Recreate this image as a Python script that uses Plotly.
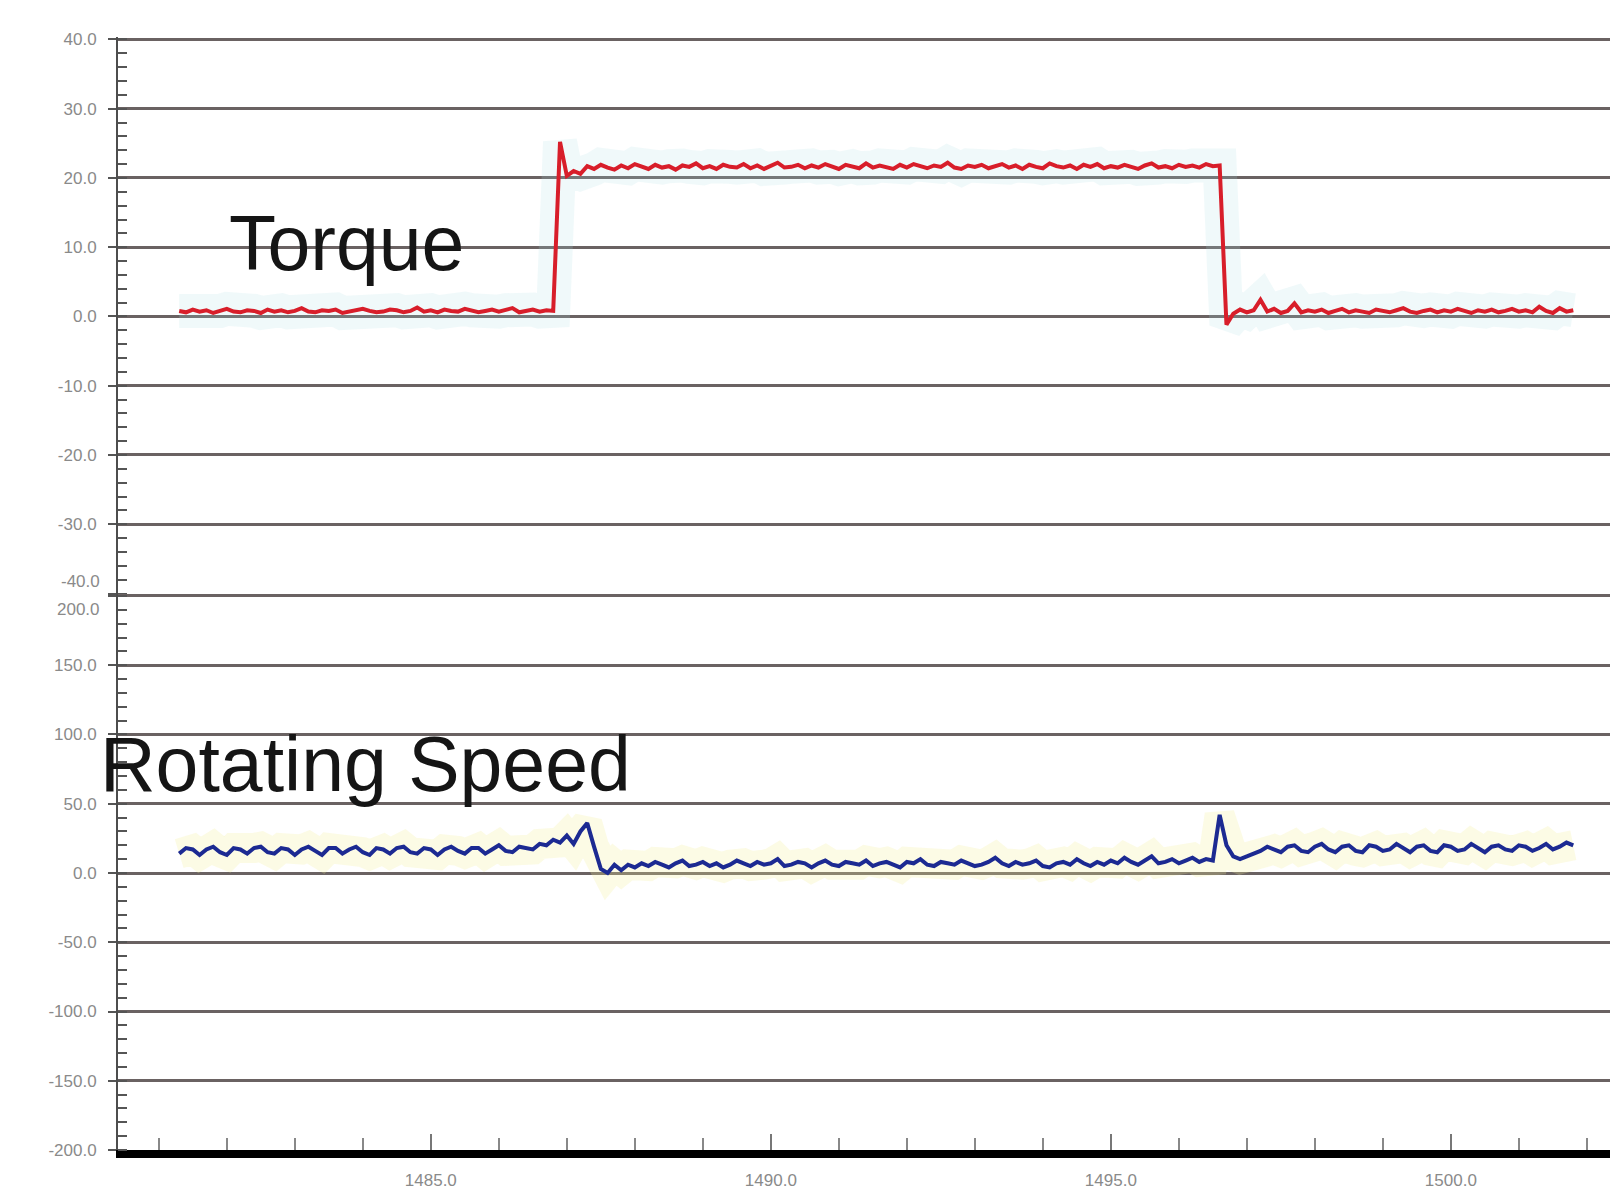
import plotly.graph_objects as go
from plotly.subplots import make_subplots

# ---- data ----
T0 = 1481.3      # first sample time
DT = 0.1         # sample period
torque_nm = [
    0.8,0.6,1.0,0.7,0.9,0.5,0.8,1.1,0.7,0.6,
    0.9,0.8,0.5,1.0,0.7,0.9,0.6,0.8,1.2,0.7,
    0.6,0.9,0.8,1.0,0.5,0.7,0.9,1.1,0.8,0.6,
    0.7,1.0,0.9,0.6,0.8,1.3,0.7,0.9,0.6,1.0,
    0.8,0.7,1.1,0.9,0.6,0.8,1.0,0.7,0.9,1.2,
    0.6,0.8,1.0,0.7,0.9,0.8,
    25.2,20.3,21.0,20.6,21.7,21.3,21.9,21.5,21.2,21.8,
    21.4,22.0,21.6,21.3,21.9,21.5,21.7,21.2,21.8,21.6,
    22.1,21.4,21.7,21.3,21.9,21.6,21.5,22.0,21.4,21.8,
    21.3,21.7,22.2,21.5,21.6,21.9,21.4,21.8,21.5,22.0,
    21.6,21.3,21.9,21.7,21.4,22.1,21.5,21.8,21.6,21.3,
    21.9,21.5,22.0,21.7,21.4,21.8,21.6,22.2,21.5,21.3,
    21.8,21.6,21.9,21.4,21.7,22.0,21.5,21.8,21.3,21.9,
    21.6,21.4,22.1,21.7,21.5,21.8,21.3,21.9,21.6,22.0,
    21.4,21.7,21.5,21.9,21.6,21.3,21.8,22.1,21.5,21.7,
    21.4,21.9,21.6,21.8,21.5,22.0,21.7,21.8,
    -1.2,0.4,1.0,0.6,0.9,2.4,0.7,1.1,0.5,0.8,
    1.9,0.6,0.9,0.7,1.0,0.5,0.8,1.1,0.6,0.9,
    0.7,0.5,1.0,0.8,0.6,0.9,1.2,0.7,0.5,0.8,
    1.0,0.6,0.9,0.7,1.1,0.8,0.5,0.9,0.7,1.0,
    0.6,0.8,1.1,0.7,0.9,0.6,1.4,0.8,0.5,1.2,
    0.7,0.9,
]
speed_rpm = [
    14,18,17,13,17,19,15,13,18,17,
    14,18,19,15,14,18,17,13,17,19,
    16,13,18,18,14,17,19,15,13,18,
    17,14,18,19,15,14,18,17,13,17,
    19,16,14,18,18,14,17,20,16,15,
    19,18,17,21,20,24,
    22,27,21,30,36,19,3,0,6,2,
    6,4,7,5,8,6,4,7,9,5,
    6,8,5,7,4,6,9,7,5,8,
    6,7,10,5,6,8,7,4,7,9,
    6,5,8,7,6,9,5,7,8,6,
    4,8,7,10,6,5,8,7,6,9,
    7,5,6,8,11,7,5,8,6,7,
    9,5,4,7,8,6,10,7,5,8,
    6,9,7,11,8,6,9,12,7,8,
    10,7,9,11,8,10,9,
    42,20,12,10,12,14,16,19,17,15,
    19,20,16,15,19,21,17,15,19,20,
    16,15,20,19,16,17,21,18,15,19,
    20,16,15,20,19,16,17,21,18,15,
    19,20,17,16,20,19,16,18,21,17,
    19,22,20,
]
time_s = [round(T0 + DT * i, 1) for i in range(len(torque_nm))]

torque_ticks = [40, 30, 20, 10, 0, -10, -20, -30, -40]
torque_labels = ["40.0", "30.0", "20.0", "10.0", "0.0", "-10.0", "-20.0", "-30.0", ""]
speed_ticks = [200, 150, 100, 50, 0, -50, -100, -150, -200]
speed_labels = ["", "150.0", "100.0", "50.0", "0.0", "-50.0", "-100.0", "-150.0", "-200.0"]
x_ticks = [1485, 1490, 1495, 1500]
x_labels = ["1485.0", "1490.0", "1495.0", "1500.0"]

GRID = "#6a6262"
TICKFONT = dict(family="Liberation Sans Narrow, Liberation Sans, Arial", size=17, color="#8a8a8a")
BIGFONT = dict(family="Liberation Sans, Arial, Helvetica", size=77, color="#151515")

fig = make_subplots(rows=2, cols=1, shared_xaxes=True, vertical_spacing=0)

# faint scan halos
fig.add_trace(go.Scatter(x=time_s, y=torque_nm, mode="lines",
                         line=dict(color="rgba(170,220,230,0.18)", width=34),
                         hoverinfo="skip", showlegend=False), row=1, col=1)
fig.add_trace(go.Scatter(x=time_s, y=speed_rpm, mode="lines",
                         line=dict(color="rgba(245,240,150,0.25)", width=30),
                         hoverinfo="skip", showlegend=False), row=2, col=1)

fig.add_trace(go.Scatter(x=time_s, y=torque_nm, mode="lines", name="Torque",
                         line=dict(color="#d81e2a", width=4), showlegend=False),
              row=1, col=1)
fig.add_trace(go.Scatter(x=time_s, y=speed_rpm, mode="lines", name="Rotating Speed",
                         line=dict(color="#1c2a92", width=4), showlegend=False),
              row=2, col=1)

yaxis_common = dict(showgrid=True, gridcolor=GRID, gridwidth=2.5, zeroline=False,
                    showline=True, linecolor="#4d4d4d", linewidth=2,
                    ticks="outside", ticklen=8, tickwidth=2, tickcolor="#555555",
                    ticklabelstandoff=8, tickfont=TICKFONT, tickmode="array")

fig.update_yaxes(range=[-40, 40.35], tickvals=torque_ticks, ticktext=torque_labels,
                 minor=dict(tickmode="linear", tick0=0, dtick=2, ticks="inside",
                            ticklen=9, tickwidth=2, tickcolor="#555555", showgrid=False),
                 **yaxis_common, row=1, col=1)
fig.update_yaxes(range=[-200, 201.8], tickvals=speed_ticks, ticktext=speed_labels,
                 minor=dict(tickmode="linear", tick0=0, dtick=10, ticks="inside",
                            ticklen=9, tickwidth=2, tickcolor="#555555", showgrid=False),
                 **yaxis_common, row=2, col=1)

fig.update_xaxes(range=[1480.4, 1502.34], showgrid=False, zeroline=False)
fig.update_xaxes(showline=False, ticks="", showticklabels=False, row=1, col=1)
fig.update_xaxes(showline=True, linecolor="#000000", linewidth=8,
                 tickmode="array", tickvals=x_ticks, ticktext=x_labels,
                 ticks="inside", ticklen=16, tickwidth=1.5, tickcolor="#777777",
                 minor=dict(tickmode="linear", tick0=1480, dtick=1, ticks="inside",
                            ticklen=12, tickwidth=1.5, tickcolor="#888888", showgrid=False),
                 ticklabelstandoff=8, tickfont=TICKFONT, row=2, col=1)

fig.add_annotation(text="Torque", x=1482.0, y=10.6, xref="x", yref="y",
                   xanchor="left", yanchor="middle", showarrow=False, font=BIGFONT)
fig.add_annotation(text="Rotating Speed", x=(98 - 118) / 1492, y=79, xref="paper", yref="y2",
                   xanchor="left", yanchor="middle", showarrow=False, font=BIGFONT)
fig.add_annotation(text="-40.0", x=0, y=-40, xref="paper", yref="y",
                   xanchor="right", yanchor="middle", xshift=-16, yshift=12,
                   showarrow=False, font=TICKFONT)
fig.add_annotation(text="200.0", x=0, y=200, xref="paper", yref="y2",
                   xanchor="right", yanchor="middle", xshift=-16, yshift=-14,
                   showarrow=False, font=TICKFONT)

fig.update_layout(width=1610, height=1204,
                  margin=dict(l=118, r=0, t=37, b=54),
                  plot_bgcolor="white", paper_bgcolor="white",
                  showlegend=False)

fig.write_html("out.html", config={"displayModeBar": False},
               post_script="document.body.style.margin='0';document.body.style.overflow='hidden';")
